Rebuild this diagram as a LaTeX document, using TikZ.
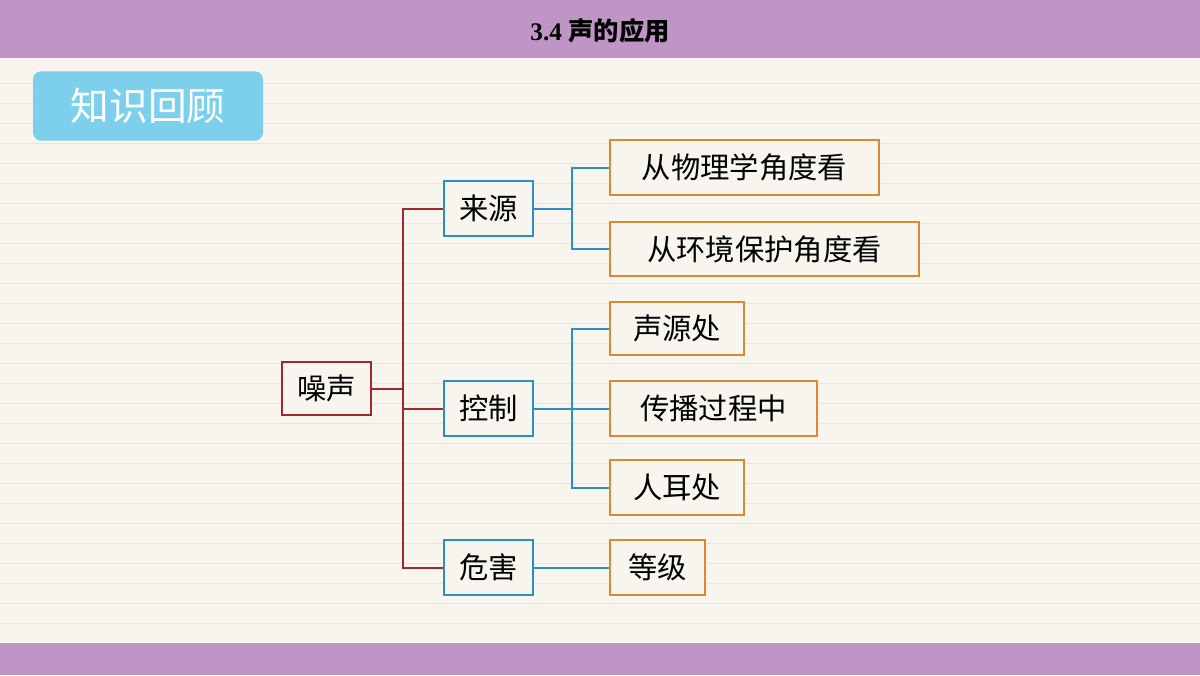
\documentclass[tikz,border=0pt]{standalone}
\usepackage{fontspec}
\setmainfont{Liberation Serif}
\newfontfamily\cjk{Noto Sans CJK SC}
\definecolor{bar}{HTML}{BF95C5}
\definecolor{bg}{HTML}{F8F5EE}
\definecolor{badge}{HTML}{7DD0EC}
\definecolor{dred}{HTML}{A0282D}
\definecolor{blu}{HTML}{2B8FC0}
\definecolor{org}{HTML}{D98A2E}
\tikzset{
 box/.style={draw, line width=1.3pt, fill=bg, inner sep=0pt, font=\cjk\fontsize{22}{26}\selectfont, text=black},
 rbox/.style={box, draw=dred},
 bbox/.style={box, draw=blu},
 obox/.style={box, draw=org},
 rl/.style={draw=dred, line width=1.5pt},
 bl/.style={draw=blu, line width=1.5pt}
}
\begin{document}
\begin{tikzpicture}[x=0.75pt,y=-0.75pt]
\useasboundingbox (0,0) rectangle (1200,675);
\fill[bg] (0,0) rectangle (1200,675);
\foreach \y in {83,103,...,643} \draw[black!10, line width=0.6pt] (0,\y) -- (1200,\y);
\fill[bar] (0,0) rectangle (1200,58);
\fill[bar] (0,643) rectangle (1200,675);
\node[font=\bfseries\fontsize{19}{22}\selectfont] (title) at (600,31) {3.4 {\cjk 声的应用}};
\node[fill=badge, rounded corners=6pt, minimum width=172.5pt, minimum height=52pt, text=white, font=\cjk\fontsize{29}{32}\selectfont] (badge) at (148,106) {知识回顾};
\node[rbox, minimum width=66.75pt, minimum height=39.75pt] (zs) at (326.5,388.5) {噪声};
\node[bbox, minimum width=66.75pt, minimum height=41pt] (ly) at (488.5,208.5) {来源};
\node[bbox, minimum width=66.75pt, minimum height=41pt] (kz) at (488.5,408.5) {控制};
\node[bbox, minimum width=66.75pt, minimum height=41pt] (wh) at (488.5,567.5) {危害};
\node[obox, minimum width=201.75pt, minimum height=41pt] (a1) at (744.5,167.5) {从物理学角度看};
\node[obox, minimum width=231.75pt, minimum height=40.5pt] (a2) at (764.5,249) {从环境保护角度看};
\node[obox, minimum width=100.5pt, minimum height=39.75pt] (b1) at (677,328.5) {声源处};
\node[obox, minimum width=155.25pt, minimum height=41pt] (b2) at (713.5,408.5) {传播过程中};
\node[obox, minimum width=100.5pt, minimum height=41pt] (b3) at (677,487.5) {人耳处};
\node[obox, minimum width=71.25pt, minimum height=41pt] (c1) at (657.5,567.5) {等级};
\coordinate (rj) at (403,388.5);
\draw[rl] (zs.east) -- (rj);
\draw[rl] (ly.west) -| (rj) |- (wh.west);
\draw[rl] (rj) |- (kz.west);
\draw[bl] (ly.east) -- ++(38,0) coordinate (j1);
\draw[bl] (a1.west) -| (j1) |- (a2.west);
\draw[bl] (kz.east) -- ++(38,0) coordinate (j2);
\draw[bl] (b1.west) -| (j2) |- (b3.west);
\draw[bl] (j2) -- (b2.west);
\draw[bl] (wh.east) -- (c1.west);
\end{tikzpicture}
\end{document}
